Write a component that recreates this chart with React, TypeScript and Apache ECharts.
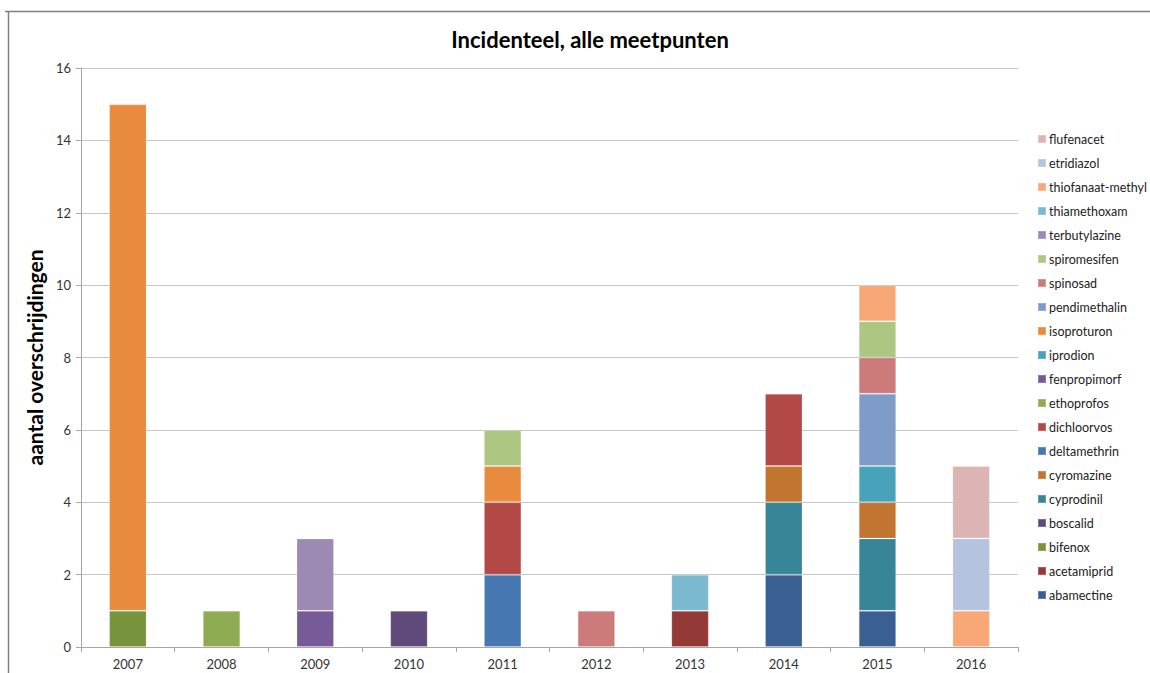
import React, { useEffect, useRef } from "react";
import * as echarts from "echarts";

const years = ["2007", "2008", "2009", "2010", "2011", "2012", "2013", "2014", "2015", "2016"];

const abamectine = [null, null, null, null, null, null, null, 2, 1, null];
const acetamiprid = [null, null, null, null, null, null, 1, null, null, null];
const bifenox = [1, null, null, null, null, null, null, null, null, null];
const boscalid = [null, null, null, 1, null, null, null, null, null, null];
const cyprodinil = [null, null, null, null, null, null, null, 2, 2, null];
const cyromazine = [null, null, null, null, null, null, null, 1, 1, null];
const deltamethrin = [null, null, null, null, 2, null, null, null, null, null];
const dichloorvos = [null, null, null, null, 2, null, null, 2, null, null];
const ethoprofos = [null, 1, null, null, null, null, null, null, null, null];
const fenpropimorf = [null, null, 1, null, null, null, null, null, null, null];
const iprodion = [null, null, null, null, null, null, null, null, 1, null];
const isoproturon = [14, null, null, null, 1, null, null, null, null, null];
const pendimethalin = [null, null, null, null, null, null, null, null, 2, null];
const spinosad = [null, null, null, null, null, 1, null, null, 1, null];
const spiromesifen = [null, null, null, null, 1, null, null, null, 1, null];
const terbutylazine = [null, null, 2, null, null, null, null, null, null, null];
const thiamethoxam = [null, null, null, null, null, null, 1, null, null, null];
const thiofanaatMethyl = [null, null, null, null, null, null, null, null, 1, 1];
const etridiazol = [null, null, null, null, null, null, null, null, null, 2];
const flufenacet = [null, null, null, null, null, null, null, null, null, 2];

const seriesNames = [
  "abamectine", "acetamiprid", "bifenox", "boscalid", "cyprodinil", "cyromazine",
  "deltamethrin", "dichloorvos", "ethoprofos", "fenpropimorf", "iprodion", "isoproturon",
  "pendimethalin", "spinosad", "spiromesifen", "terbutylazine", "thiamethoxam",
  "thiofanaat-methyl", "etridiazol", "flufenacet",
];
const seriesValues = [
  abamectine, acetamiprid, bifenox, boscalid, cyprodinil, cyromazine,
  deltamethrin, dichloorvos, ethoprofos, fenpropimorf, iprodion, isoproturon,
  pendimethalin, spinosad, spiromesifen, terbutylazine, thiamethoxam,
  thiofanaatMethyl, etridiazol, flufenacet,
];
const seriesColors = [
  "#3A6093", "#953838", "#77933C", "#604A7B", "#378597", "#C27530",
  "#4777B0", "#B34947", "#8EAD52", "#775A98", "#47A2BA", "#E88B3E",
  "#7F9BC8", "#CC7B7A", "#ADC682", "#9C89B4", "#7AB9CF",
  "#F8A877", "#B4C4DE", "#DDB4B4",
];

const yTicks = { min: 0, max: 16, interval: 2 };

export default function App() {
  const ref = useRef<HTMLDivElement>(null);
  useEffect(() => {
    if (!ref.current) return;
    const chart = echarts.init(ref.current, null, { renderer: "svg" });
    const font = "Lato, 'Open Sans', sans-serif";
    chart.setOption({
      animation: false,
      backgroundColor: "#ffffff",
      textStyle: { fontFamily: font },
      title: {
        text: "Incidenteel, alle meetpunten",
        left: 585,
        top: 23,
        textAlign: "center",
        textStyle: { fontFamily: font, fontSize: 22, fontWeight: "bold", color: "#000" },
      },
      legend: {
        orient: "vertical",
        left: 1032,
        top: 127,
        itemWidth: 8,
        itemHeight: 8,
        itemGap: 10,
        icon: "rect",
        data: [...seriesNames].reverse(),
        textStyle: { fontFamily: font, fontSize: 12.5, color: "#222", lineHeight: 14, padding: [0, 0, 0, -2] },
      },
      grid: { left: 81, right: 132, top: 68, bottom: 26, containLabel: false, outerBoundsMode: "none" },
      xAxis: {
        type: "category",
        data: years,
        axisLine: { lineStyle: { color: "#a6a6a6", width: 1 } },
        axisTick: { show: true, length: 5, lineStyle: { color: "#a6a6a6" } },
        axisLabel: { fontFamily: font, fontSize: 13, color: "#333", margin: 10 },
      },
      yAxis: {
        type: "value",
        min: yTicks.min,
        max: yTicks.max,
        interval: yTicks.interval,
        name: "aantal overschrijdingen",
        nameLocation: "middle",
        nameGap: 30,
        nameRotate: 90,
        nameTextStyle: { fontFamily: font, fontSize: 21, fontWeight: "bold", color: "#000" },
        axisLine: { show: true, lineStyle: { color: "#a6a6a6", width: 1 } },
        axisTick: { show: true, length: 5, lineStyle: { color: "#a6a6a6" } },
        axisLabel: { fontFamily: font, fontSize: 13, color: "#333", margin: 10 },
        splitLine: { lineStyle: { color: "#c8c8c8", width: 1 } },
      },
      series: seriesNames.map((n, i) => ({
        name: n,
        type: "bar",
        stack: "total",
        barWidth: "40%",
        data: seriesValues[i],
        itemStyle: { color: seriesColors[i], borderColor: "rgba(255,255,255,0.2)", borderWidth: 1 },
      })),
      graphic: [
        { type: "line", shape: { x1: 5, y1: 11.5, x2: 1150, y2: 11.5 }, style: { stroke: "#7f7f7f", lineWidth: 1.5 } },
        { type: "line", shape: { x1: 8.5, y1: 11, x2: 8.5, y2: 673 }, style: { stroke: "#7f7f7f", lineWidth: 1.5 } },
      ],
    });
    return () => chart.dispose();
  }, []);
  return (
    <div
      ref={ref}
      style={{ position: "absolute", left: 0, top: 0, width: 1150, height: 673 }}
    />
  );
}
